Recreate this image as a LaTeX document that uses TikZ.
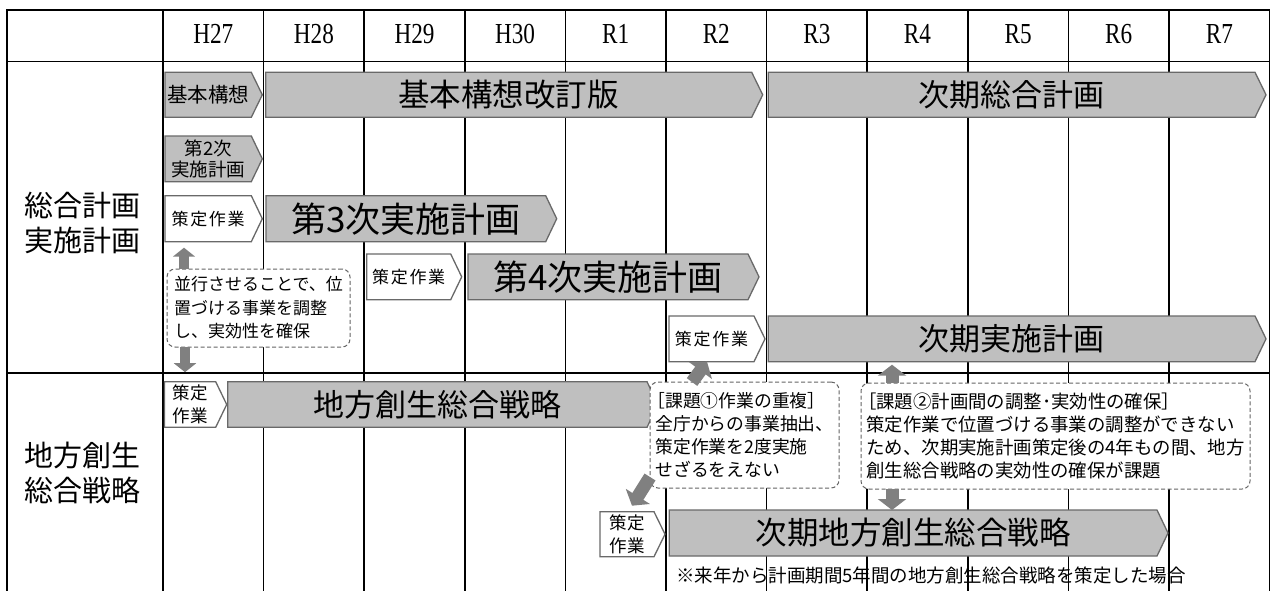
\documentclass[tikz,border=0pt]{standalone}
\usepackage{fontspec}
\usepackage{graphicx}
\setmainfont{Liberation Serif}
\newfontfamily\jp{Noto Sans CJK JP}
\newfontfamily\jpls{Noto Sans CJK JP}[LetterSpace=10]
\usetikzlibrary{arrows.meta,calc}
\pgfdeclarelayer{gridlayer}
\pgfdeclarelayer{platelayer}
\pgfsetlayers{gridlayer,platelayer,main}
\definecolor{plategray}{RGB}{191,191,191}
\definecolor{edgegray}{RGB}{105,105,105}
\definecolor{arrowgray}{RGB}{128,128,128}
\definecolor{dashgray}{RGB}{100,100,100}
\tikzset{
  gridline/.style={line width=1.6pt, draw=black},
  graypl/.style={fill=plategray, draw=edgegray, line width=1.3pt},
  whitepl/.style={fill=white, draw=edgegray, line width=1.3pt},
  platelabel/.style={inner sep=0pt, outer sep=0pt, align=center},
  notebox/.style={draw=dashgray, dash pattern=on 4pt off 2.5pt, line width=1pt, rounded corners=8pt, fill=white, align=left, inner sep=0pt, outer sep=0pt},
  smallarrow/.style={draw=arrowgray, line width=10pt, -{Triangle[width=22pt,length=9pt]}},
  bigarrow/.style={draw=arrowgray, line width=13pt, -{Triangle[width=28pt,length=11pt]}},
  hdr/.style={font=\fontsize{29}{29}\selectfont, inner sep=0pt},
  sidelabel/.style={font=\jp\fontsize{29}{35}\selectfont, align=center, inner sep=0pt},
}
% #1 style, #2 name, #3 x1, #4 y1, #5 x tip, #6 y2, #7 font, #8 text
\newcommand\hplate[8]{%
  \pgfmathsetmacro\hpw{#5-#3-11}%
  \pgfmathsetmacro\hph{#6-#4}%
  \pgfmathsetmacro\hpx{(#3+#5-11)/2}%
  \pgfmathsetmacro\hpy{(#4+#6)/2}%
  \node[platelabel, font={#7}, minimum width=\hpw pt, minimum height=\hph pt] (#2) at (\hpx,\hpy) {#8};%
  \begin{pgfonlayer}{platelayer}%
    \path[#1] (#2.north west) -- (#2.north east) -- ([xshift=11pt]#2.east) -- (#2.south east) -- (#2.south west) -- cycle;%
  \end{pgfonlayer}}
\begin{document}
\begin{tikzpicture}[x=1pt,y=-1pt]
\useasboundingbox (0,0) rectangle (1273,590);
\begin{pgfonlayer}{gridlayer}
  \fill[white] (0,0) rectangle (1273,590);
  \foreach \k in {0,...,11} { \draw[gridline] ({163+100.6*\k},10) -- ({163+100.6*\k},595); }
  \draw[gridline] (7,10) -- (7,595);
  \draw[gridline] (6.2,10) -- (1270.4,10);
  \draw[gridline] (7,61.5) -- (1269.6,61.5);
  \draw[gridline] (7,373) -- (1269.6,373);
\end{pgfonlayer}
% header
\foreach \lab [count=\i from 0] in {H27,H28,H29,H30,R1,R2,R3,R4,R5,R6,R7}
  \node[hdr] (h\i) at ({163+100.6*\i+50.3},34) {\scalebox{0.8}[1]{\lab}};
% side labels
\node[sidelabel] (lab1) at (82,223) {総合計画\\実施計画};
\node[sidelabel] (lab2) at (82,473) {地方創生\\総合戦略};
% plates row 1
\hplate{graypl}{g1}{165}{72.3}{262.3}{117.3}{\jp\fontsize{20.5}{20.5}\selectfont}{基本構想}
\hplate{graypl}{g2}{265.7}{72.3}{762.7}{117.3}{\jp\fontsize{31.5}{31.5}\selectfont}{基本構想改訂版}
\hplate{graypl}{g3}{768.3}{72.3}{1266}{117.3}{\jp\fontsize{31}{31}\selectfont}{次期総合計画}
\hplate{graypl}{g4}{165}{136}{262.3}{181.7}{\jp\fontsize{18.5}{21}\selectfont}{第2次\\実施計画}
\hplate{whitepl}{w1}{165}{195.7}{262.3}{241.7}{\jpls\fontsize{17}{17}\selectfont}{策定作業}
\hplate{graypl}{g5}{266}{195.7}{556.7}{241.7}{\jp\fontsize{35}{35}\selectfont}{第3次実施計画}
\hplate{whitepl}{w2}{366.7}{254}{461.7}{299.7}{\jpls\fontsize{17}{17}\selectfont}{策定作業}
\hplate{graypl}{g6}{468}{254}{759}{299.7}{\jp\fontsize{35}{35}\selectfont}{第4次実施計画}
\hplate{whitepl}{w3}{669}{316}{765}{361.7}{\jpls\fontsize{17}{17}\selectfont}{策定作業}
\hplate{graypl}{g7}{768.3}{316}{1266}{361.7}{\jp\fontsize{31}{31}\selectfont}{次期実施計画}
% plates row 2
\hplate{whitepl}{w4}{164.5}{381.7}{226.7}{427.3}{\jp\fontsize{17.5}{23.5}\selectfont}{策定\\作業}
\hplate{graypl}{g8}{227.7}{381.7}{658}{427.3}{\jp\fontsize{31}{31}\selectfont}{地方創生総合戦略}
\hplate{whitepl}{w5}{600}{511.7}{665}{556.7}{\jp\fontsize{17.5}{23.5}\selectfont}{策定\\作業}
\hplate{graypl}{g9}{669.3}{510}{1168}{556}{\jp\fontsize{31.5}{31.5}\selectfont}{次期地方創生総合戦略}
% dashed notes
\node[notebox, minimum width=183pt, minimum height=78pt, font=\jp\fontsize{17}{23.5}\selectfont] (p1) at (258.5,308) {並行させることで、位\\置づける事業を調整\\し、実効性を確保};
\node[notebox, minimum width=189pt, minimum height=106pt, font=\jp\fontsize{17.8}{23}\selectfont] (k1) at (744.5,435) {\kern-0.45em［課題①作業の重複］\\全庁からの事業抽出、\\策定作業を2度実施\\せざるをえない};
\node[notebox, minimum width=389pt, minimum height=106pt, font=\jp\fontsize{18.4}{22.8}\selectfont] (k2) at (1055.5,436) {\kern-0.45em［課題②計画間の調整･実効性の確保］\\策定作業で位置づける事業の調整ができない\\ため、次期実施計画策定後の4年もの間、地方\\創生総合戦略の実効性の確保が課題};
% footnote
\node[anchor=west, inner sep=0pt, font=\jp\fontsize{18.5}{18.5}\selectfont] (nt) at (676,575) {※来年から計画期間5年間の地方創生総合戦略を策定した場合};
% block arrows
\draw[smallarrow, shorten >=6pt] ([xshift=17pt]p1.north west) -- ([xshift=19pt]w1.south west);
\draw[smallarrow, shorten >=9.5pt] ([xshift=18pt]p1.south west) -- ([xshift=20.5pt]w4.north west);
\draw[bigarrow] ([xshift=42pt]k1.north west) -- ([xshift=38pt]w3.south west);
\draw[bigarrow] ([yshift=-95pt]k1.north west) -- ($(w5.north west)+(32,-6)$);
\draw[bigarrow, shorten >=3pt] ([xshift=31pt]k2.north west) -- ([xshift=123.7pt]g7.south west);
\draw[bigarrow] ([xshift=31pt]k2.south west) -- ([xshift=222.7pt]g9.north west);
\end{tikzpicture}
\end{document}
